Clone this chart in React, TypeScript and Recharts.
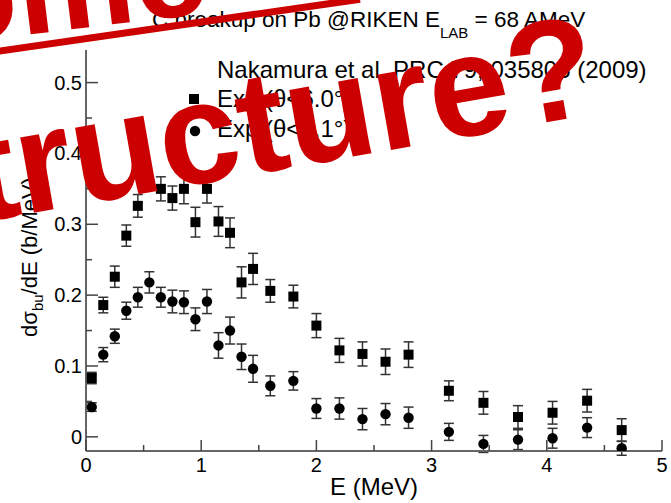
import React from "react"
import { ScatterChart, Scatter, XAxis, YAxis, ErrorBar } from "recharts"

// energy bins (MeV); the 0.55 MeV square is hidden under the red annotation in the source
const energiesWide = [0.05, 0.15, 0.25, 0.35, 0.45, 0.65, 0.75, 0.85, 0.95, 1.05, 1.15, 1.25, 1.35, 1.45, 1.6, 1.8, 2.0, 2.2, 2.4, 2.6, 2.8, 3.15, 3.45, 3.75, 4.05, 4.35, 4.65]
const energiesNarrow = [0.05, 0.15, 0.25, 0.35, 0.45, 0.55, 0.65, 0.75, 0.85, 0.95, 1.05, 1.15, 1.25, 1.35, 1.45, 1.6, 1.8, 2.0, 2.2, 2.4, 2.6, 2.8, 3.15, 3.45, 3.75, 4.05, 4.35, 4.65]

// Exp (theta < 6.0 deg) - squares
const sigmaWide = [0.083, 0.186, 0.226, 0.284, 0.326, 0.35, 0.337, 0.35, 0.303, 0.35, 0.304, 0.288, 0.218, 0.237, 0.206, 0.198, 0.157, 0.122, 0.117, 0.106, 0.116, 0.065, 0.048, 0.028, 0.034, 0.051, 0.0095]
const errWide = [0.008, 0.011, 0.015, 0.015, 0.016, 0.017, 0.017, 0.021, 0.021, 0.02, 0.021, 0.021, 0.022, 0.022, 0.016, 0.016, 0.017, 0.017, 0.017, 0.018, 0.018, 0.014, 0.016, 0.016, 0.016, 0.016, 0.016]

// Exp (theta < 2.1 deg) - circles
const sigmaNarrow = [0.042, 0.116, 0.142, 0.178, 0.197, 0.218, 0.197, 0.191, 0.19, 0.166, 0.191, 0.129, 0.15, 0.113, 0.096, 0.072, 0.079, 0.04, 0.04, 0.025, 0.032, 0.027, 0.007, -0.01, -0.004, -0.002, 0.013, -0.016]
const errNarrow = [0.006, 0.01, 0.01, 0.012, 0.014, 0.015, 0.014, 0.016, 0.016, 0.016, 0.017, 0.018, 0.019, 0.018, 0.019, 0.014, 0.013, 0.014, 0.015, 0.015, 0.015, 0.015, 0.012, 0.012, 0.014, 0.014, 0.014, 0.01]

const xTicks = [0, 0.5, 1, 1.5, 2, 2.5, 3, 3.5, 4, 4.5, 5]
const yTicks = [0, 0.05, 0.1, 0.15, 0.2, 0.25, 0.3, 0.35, 0.4, 0.45, 0.5]

const wideData = energiesWide.map((e, i) => ({ e, s: sigmaWide[i], err: errWide[i] }))
const narrowData = energiesNarrow.map((e, i) => ({ e, s: sigmaNarrow[i], err: errNarrow[i] }))

const FRAME = "#666"
const TICK = "#444"
const RED = "#cc0000"
const FONT = "'Liberation Sans', Arial, Helvetica, sans-serif"

const isMajorX = (v: number) => Number.isInteger(v)
const isMajorY = (v: number) => Math.abs(v * 10 - Math.round(v * 10)) < 1e-6
const fmtY = (v: number) => (v === 0 ? "0" : v.toFixed(1))

const BottomTick = ({ x, y, payload }: any) => {
  const major = isMajorX(payload.value)
  return (
    <g>
      <line x1={x} x2={x} y1={y} y2={y - (major ? 11 : 6)} stroke={TICK} strokeWidth={1.5} />
      {major && (
        <text x={x} y={y + 21} textAnchor="middle" fontSize={20} fill="#000">
          {payload.value}
        </text>
      )}
    </g>
  )
}

const TopTick = ({ x, y, payload }: any) => {
  const major = isMajorX(payload.value)
  return <line x1={x} x2={x} y1={y} y2={y + (major ? 11 : 6)} stroke={TICK} strokeWidth={1.5} />
}

const LeftTick = ({ x, y, payload }: any) => {
  const major = isMajorY(payload.value)
  return (
    <g>
      <line x1={x} x2={x + (major ? 12 : 6)} y1={y} y2={y} stroke={TICK} strokeWidth={1.5} />
      {major && (
        <text x={x - 4} y={y + 7} textAnchor="end" fontSize={20} fill="#000">
          {fmtY(payload.value)}
        </text>
      )}
    </g>
  )
}

const RightTick = ({ x, y, payload }: any) => {
  const major = isMajorY(payload.value)
  return <line x1={x} x2={x - (major ? 12 : 6)} y1={y} y2={y} stroke={TICK} strokeWidth={1.5} />
}

const Square = (p: any) => <rect x={p.cx - 5} y={p.cy - 5} width={10} height={10} fill="#000" />
const Dot = (p: any) => <circle cx={p.cx} cy={p.cy} r={5.2} fill="#000" />

export default function App() {
  return (
    <div style={{ position: "absolute", left: 0, top: 0, width: 671, height: 503, fontFamily: FONT, background: "#fff" }}>
      <ScatterChart width={671} height={503} margin={{ top: 50, right: 9, bottom: 0, left: 0 }}>
        <XAxis
          xAxisId="b"
          type="number"
          dataKey="e"
          domain={[0, 5]}
          ticks={xTicks}
          allowDataOverflow
          height={52}
          tickSize={0}
          tickMargin={0}
          tickLine={false}
          axisLine={{ stroke: FRAME, strokeWidth: 2 }}
          tick={<BottomTick />}
          interval={0}
        />
        <XAxis
          xAxisId="t"
          orientation="top"
          type="number"
          domain={[0, 5]}
          ticks={xTicks}
          allowDataOverflow
          height={0}
          tickSize={0}
          tickMargin={0}
          tickLine={false}
          axisLine={{ stroke: FRAME, strokeWidth: 2 }}
          tick={<TopTick />}
          interval={0}
        />
        <YAxis
          yAxisId="l"
          type="number"
          dataKey="s"
          domain={[-0.02, 0.546]}
          ticks={yTicks}
          allowDataOverflow
          width={86}
          tickSize={0}
          tickMargin={0}
          tickLine={false}
          axisLine={{ stroke: FRAME, strokeWidth: 2 }}
          tick={<LeftTick />}
          interval={0}
        />
        <YAxis
          yAxisId="r"
          orientation="right"
          type="number"
          domain={[-0.02, 0.546]}
          ticks={yTicks}
          allowDataOverflow
          width={0}
          tickSize={0}
          tickMargin={0}
          tickLine={false}
          axisLine={{ stroke: FRAME, strokeWidth: 2 }}
          tick={<RightTick />}
          interval={0}
        />
        <Scatter xAxisId="b" yAxisId="l" data={wideData} shape={Square} isAnimationActive={false}>
          <ErrorBar dataKey="err" direction="y" width={5} stroke="#333" strokeWidth={1.5} />
        </Scatter>
        <Scatter xAxisId="b" yAxisId="l" data={narrowData} shape={Dot} isAnimationActive={false}>
          <ErrorBar dataKey="err" direction="y" width={5} stroke="#333" strokeWidth={1.5} />
        </Scatter>
      </ScatterChart>

      <svg width={671} height={503} style={{ position: "absolute", left: 0, top: 0, pointerEvents: "none" }}>
        {/* title */}
        <text x={152} y={27} fontSize={22.5} fill="#000">
          C breakup on Pb @RIKEN E<tspan dy={11} fontSize={15}>LAB</tspan>
          <tspan dy={-11}> = 68 AMeV</tspan>
        </text>

        {/* legend */}
        <text x={217} y={78} fontSize={24} fill="#000">Nakamura et al. PRC 79, 035805 (2009)</text>
        <rect x={189} y={94} width={10} height={10} fill="#000" />
        <text x={217} y={107} fontSize={24} fill="#000">Exp (θ&lt;6.0°)</text>
        <circle cx={195} cy={131} r={5.2} fill="#000" />
        <text x={217} y={137} fontSize={24} fill="#000">Exp (θ&lt;2.1°)</text>

        {/* axis titles */}
        <text x={374} y={495} textAnchor="middle" fontSize={24} fill="#000">E (MeV)</text>
        <text transform="translate(37,257) rotate(-90)" textAnchor="middle" fontSize={22} fill="#000">
          dσ<tspan dy={6} fontSize={15}>bu</tspan>
          <tspan dy={-6}>/dE (b/MeV)</tspan>
        </text>

        {/* red annotation */}
        <g fill={RED} fontWeight="bold">
          <text transform="translate(-146,56) rotate(-7)" fontSize={132}>Some</text>
          <line x1={-10} y1={52.4} x2={360} y2={-0.8} stroke={RED} strokeWidth={7} />
          <text transform="translate(-103,237) rotate(-10)" fontSize={145}>structure?</text>
        </g>
      </svg>
    </div>
  )
}
